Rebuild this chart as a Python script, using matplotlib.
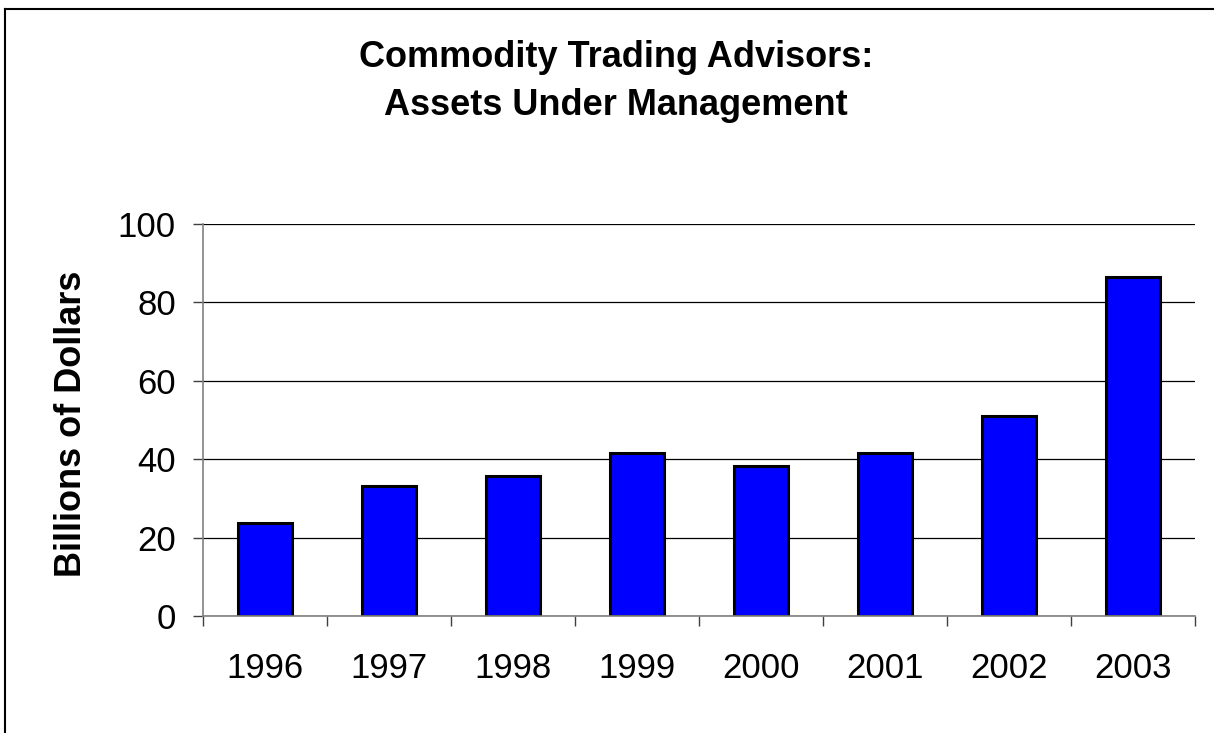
import matplotlib
matplotlib.use("Agg")
import matplotlib.pyplot as plt
from matplotlib.lines import Line2D
import numpy as np

years = ["1996", "1997", "1998", "1999", "2000", "2001", "2002", "2003"]
assets = [23.8, 33.2, 35.7, 41.5, 38.3, 41.5, 50.9, 86.5]
yticks = [0, 20, 40, 60, 80, 100]

plt.rcParams['font.family'] = ['Liberation Sans', 'DejaVu Sans']

W, H = 1214, 733
fig = plt.figure(figsize=(W / 100, H / 100), dpi=100)
ax = fig.add_axes([203 / W, 1 - 616 / H, (1195 - 203) / W, (616 - 224) / H])

x = np.arange(len(years))
ax.bar(x, assets, width=0.44, color="#0000FF", edgecolor="black", linewidth=2.2, zorder=3)

ax.set_xlim(-0.5, len(years) - 0.5)
ax.set_ylim(0, 100)
ax.set_yticks(yticks)
ax.set_yticklabels([str(v) for v in yticks], fontsize=25)
ax.set_xticks(x)
ax.set_xticklabels(years, fontsize=25)
ax.set_xticks(np.arange(-0.5, len(years)), minor=True)

ax.tick_params(axis="x", which="major", length=0, pad=26)
ax.tick_params(axis="x", which="minor", length=7.5, width=1, color="#404040", direction="out")
ax.tick_params(axis="y", which="major", length=7.5, width=1, color="#404040", direction="out", pad=12)

ax.grid(axis="y", color="black", linewidth=0.9, zorder=0)
ax.set_axisbelow(True)
for s in ["top", "right"]:
    ax.spines[s].set_visible(False)
for s in ["left", "bottom"]:
    ax.spines[s].set_color("#808080")
    ax.spines[s].set_linewidth(1.2)
    ax.spines[s].set_zorder(4)

fig.text(71.5 / W, 1 - 424 / H, "Billions of Dollars", rotation=90, ha="center", va="center",
         fontsize=26, fontweight="bold")

fig.text(616 / W, 1 - 67 / H, "Commodity Trading Advisors:", ha="center", va="baseline",
         fontsize=26, fontweight="bold")
fig.text(616 / W, 1 - 115 / H, "Assets Under Management", ha="center", va="baseline",
         fontsize=26, fontweight="bold")

# chart frame
fig.add_artist(Line2D([4.5 / W, 4.5 / W], [0, 1 - 9 / H], transform=fig.transFigure, color="black", linewidth=1.5))
fig.add_artist(Line2D([4.5 / W, 1], [1 - 9 / H, 1 - 9 / H], transform=fig.transFigure, color="black", linewidth=1.5))

fig.savefig("out.png", dpi=100)
